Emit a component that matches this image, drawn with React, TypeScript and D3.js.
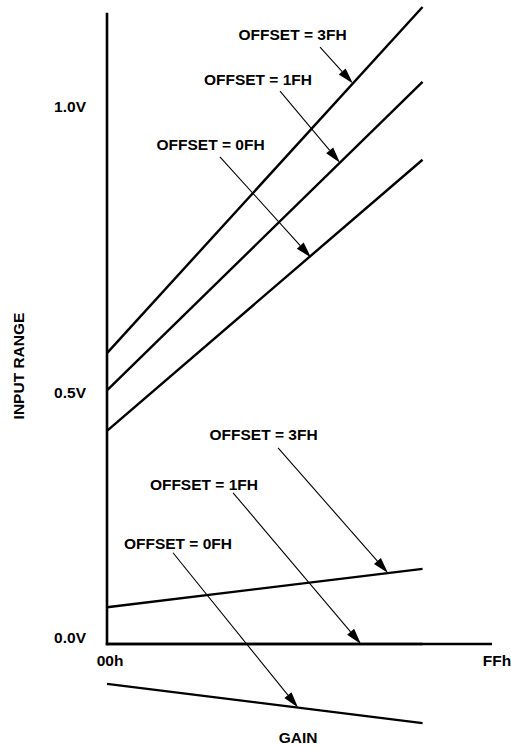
import React, { useEffect, useRef } from 'react';
import * as d3 from 'd3';

// x = gain code (00h..FFh), y = input range in volts
const codeTicks = [0, 255];
const codeTickLabels = ['00h', 'FFh'];
const voltTicks = [0, 0.5, 1.0];
const voltTickLabels = ['0.0V', '0.5V', '1.0V'];
const axisTopVolt = 1.163;

const offsetNames = ['3FH', '1FH', '0FH'];
const lineCodes = [0, 209];
// upper end of the range for each offset
const upperVolts = [
  [0.568, 1.173],
  [0.503, 1.042],
  [0.423, 0.906],
];
// lower end of the range for each offset
const lowerVolts = [
  [0.073, 0.149],
  [0.0, 0.0],
  [-0.079, -0.157],
];

// callouts: which curve they point at, where the label and arrow tail sit
const calloutGroup = ['upper', 'upper', 'upper', 'lower', 'lower', 'lower'];
const calloutSeries = [0, 1, 2, 0, 1, 2];
const calloutLabelCode = [122.9, 100.0, 68.6, 103.7, 64.2, 47.0];
const calloutLabelVolt = [1.115, 1.037, 0.923, 0.405, 0.306, 0.188];
const calloutTailCode = [141.1, 114.6, 74.8, 113.3, 83.5, 43.7];
const calloutTailVolt = [1.103, 1.026, 0.911, 0.389, 0.3, 0.181];
const calloutTipCode = [162.9, 154.3, 135.1, 186.1, 168.2, 126.5];

const App: React.FC = () => {
  const svgRef = useRef<SVGSVGElement | null>(null);

  useEffect(() => {
    const svg = d3.select(svgRef.current);
    svg.selectAll('*').remove();
    const font = 'Liberation Sans, Arial, Helvetica, sans-serif';
    const fs = 15.5;

    const x = d3.scaleLinear().domain([0, 255]).range([107, 492]);
    const y = d3.scaleLinear().domain([0, 0.5, 1]).range([644, 392, 106]);

    const line = d3
      .line<[number, number]>()
      .x((d) => x(d[0]))
      .y((d) => y(d[1]));

    // axes
    svg
      .append('line')
      .attr('x1', x(0))
      .attr('x2', x(0))
      .attr('y1', y(axisTopVolt))
      .attr('y2', y(0) + 1.2)
      .attr('stroke', '#000')
      .attr('stroke-width', 2.6);
    svg
      .append('line')
      .attr('x1', x(0) - 1.2)
      .attr('x2', x(255))
      .attr('y1', y(0))
      .attr('y2', y(0))
      .attr('stroke', '#000')
      .attr('stroke-width', 2.6);

    const txt = (s: string, px: number, py: number, anchor: string) =>
      svg
        .append('text')
        .attr('x', px)
        .attr('y', py)
        .attr('text-anchor', anchor)
        .attr('font-family', font)
        .attr('font-weight', 'bold')
        .attr('font-size', fs)
        .attr('fill', '#000')
        .text(s);

    voltTicks.forEach((v, i) => {
      txt(voltTickLabels[i], x(0) - 21, y(v) + (v === 0 ? -1 : 5.5), 'end');
    });
    codeTicks.forEach((c, i) => {
      txt(codeTickLabels[i], x(c) + (c === 0 ? 3 : 5), y(0) + 22, 'middle');
    });

    svg
      .append('text')
      .attr('transform', `translate(24,366) rotate(-90)`)
      .attr('text-anchor', 'middle')
      .attr('font-family', font)
      .attr('font-weight', 'bold')
      .attr('font-size', fs)
      .text('INPUT RANGE');
    txt('GAIN', 298, 743, 'middle');

    // range lines
    const groups: Record<string, number[][]> = { upper: upperVolts, lower: lowerVolts };
    Object.values(groups).forEach((vals) => {
      vals.forEach((v) => {
        const pts: [number, number][] = lineCodes.map((c, j) => [c, v[j]]);
        svg
          .append('path')
          .attr('d', line(pts))
          .attr('fill', 'none')
          .attr('stroke', '#000')
          .attr('stroke-width', 2.4);
      });
    });

    // callouts
    calloutGroup.forEach((g, i) => {
      const v = groups[g][calloutSeries[i]];
      const interp = d3.scaleLinear().domain(lineCodes).range(v);
      const tc = calloutTipCode[i];
      const tx = x(tc);
      const ty = y(interp(tc));
      const sx = x(calloutTailCode[i]);
      const sy = y(calloutTailVolt[i]);
      const len = Math.hypot(tx - sx, ty - sy);
      const dx = (tx - sx) / len;
      const dy = (ty - sy) / len;
      const headLen = 16;
      const hw = 4.6;
      const bx = tx - dx * headLen;
      const by = ty - dy * headLen;
      svg
        .append('line')
        .attr('x1', sx)
        .attr('y1', sy)
        .attr('x2', bx)
        .attr('y2', by)
        .attr('stroke', '#000')
        .attr('stroke-width', 1.1);
      svg
        .append('polygon')
        .attr(
          'points',
          [
            [tx, ty],
            [bx - dy * hw, by + dx * hw],
            [bx + dy * hw, by - dx * hw],
          ]
            .map((p) => p.join(','))
            .join(' ')
        )
        .attr('fill', '#000');
      txt(
        `OFFSET = ${offsetNames[calloutSeries[i]]}`,
        x(calloutLabelCode[i]),
        y(calloutLabelVolt[i]),
        'middle'
      );
    });
  }, []);

  return (
    <svg
      ref={svgRef}
      width="511"
      height="747"
      style={{ position: 'absolute', left: 0, top: 0, background: '#fff' }}
    />
  );
};

export default App;
